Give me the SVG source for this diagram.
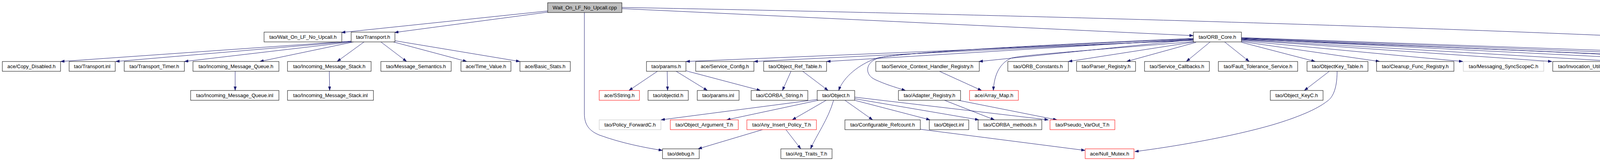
<svg xmlns="http://www.w3.org/2000/svg" width="5071" height="411" viewBox="0 0 5071 411">
<style>
.n rect{fill:#fff;stroke:#000;stroke-width:1}
.n.red rect{stroke:#f00}
.n.grey rect{stroke:#bfbfbf}
.n.root rect{fill:#bfbfbf}
.n text{font-family:"Liberation Sans",Arial,sans-serif;font-size:13px;text-anchor:middle;fill:#000}
#edges path{fill:none;stroke:#191970;stroke-width:1;marker-end:url(#arr)}
</style>
<defs>
<marker id="arr" markerUnits="userSpaceOnUse" markerWidth="10" markerHeight="8" refX="10" refY="3.5" orient="auto">
<path d="M0,0 L10,3.5 L0,7 z" fill="#191970" stroke="#191970" stroke-width="0.5"/>
</marker>
</defs>
<rect width="5071" height="411" fill="#fff"/>
<g id="edges">
<path d="M1402,28 L874,83"/>
<path d="M1402,31 L1010,83"/>
<path d="M1592,22 L3055,91"/>
<path d="M1592,19 C3000,45 4300,90 4822,128 C4950,140 5033,150 5033,169 C5033,183 5010,192 4990,196 C4900,212 4600,236 4429,242"/>
<path d="M1496,32 L1496,290 C1496,320 1510,335 1535,345 C1590,365 1650,377 1696,384"/>
<path d="M899,105 L155,157"/>
<path d="M899,106 L296,157"/>
<path d="M900,107 L472,157"/>
<path d="M905,107 L665,157"/>
<path d="M932,107 L863,157"/>
<path d="M975,107 L1041,157"/>
<path d="M1007,107 L1195,157"/>
<path d="M1011,104 L1331,157"/>
<path d="M602,182 L602,231"/>
<path d="M843,182 L844,231"/>
<path d="M1683,182 L1610,231"/>
<path d="M1708,182 L1709,231"/>
<path d="M1731,182 L1811,231"/>
<path d="M1757,181 L1947,231"/>
<path d="M2025,182 L2003,231"/>
<path d="M2055,182 L2120,231"/>
<path d="M2092,254 L1692,306"/>
<path d="M2095,256 L1860,306"/>
<path d="M2115,256 L2028,306"/>
<path d="M2134,256 C2120,305 2090,345 2075,380"/>
<path d="M2163,256 L2234,306"/>
<path d="M2188,256 L2381,306"/>
<path d="M2188,252 L2506,306"/>
<path d="M2188,248 L2684,306"/>
<path d="M1952,331 L1787,380"/>
<path d="M2012,331 L2050,380"/>
<path d="M2356,330 L2778,384"/>
<path d="M2418,256 L2546,306"/>
<path d="M2453,256 L2706,306"/>
<path d="M2405,182 L2513,231"/>
<path d="M3403,182 L3339,231"/>
<path d="M3423,182 C3423,230 3410,250 3398,258 C3370,280 3320,300 3260,318 C3150,350 3000,375 2905,387"/>
<path d="M4232,182 L4297,231"/>
<path d="M3055,103 L1756,157"/>
<path d="M3055,102 L1930,157"/>
<path d="M3055,100 L2116,157"/>
<path d="M3055,99 C2600,120 2280,135 2240,150 C2200,165 2160,195 2147,231"/>
<path d="M3055,98 C2650,115 2300,135 2250,148 C2215,158 2212,190 2240,203 C2265,215 2290,222 2318,231"/>
<path d="M3055,101 L2506,157"/>
<path d="M3056,106 C2800,128 2620,140 2590,148 C2560,160 2545,190 2543,231"/>
<path d="M3058,107 L2735,157"/>
<path d="M3062,108 L2884,157"/>
<path d="M3098,107 L3037,157"/>
<path d="M3135,107 L3198,157"/>
<path d="M3178,108 L3367,157"/>
<path d="M3178,106 L3532,157"/>
<path d="M3178,104 L3745,157"/>
<path d="M3178,102 L3973,157"/>
<path d="M3178,101 L4147,157"/>
<path d="M3178,100 C3800,125 4200,140 4270,150 C4300,160 4310,190 4315,231"/>
<path d="M3178,99 L4350,157"/>
<path d="M3178,98 L4553,157"/>
<path d="M3178,97 L4737,157"/>
<path d="M3178,96 L4915,157"/>
</g>
<g id="n_root" class="n root"><rect x="1402" y="7" width="190" height="25"/><text x="1497" y="24">Wait_On_LF_No_Upcall.cpp</text></g>
<g id="n_wolnu_h" class="n"><rect x="676" y="82" width="199" height="25"/><text x="775.5" y="99">tao/Wait_On_LF_No_Upcall.h</text></g>
<g id="n_transport_h" class="n"><rect x="899" y="82" width="112" height="25"/><text x="955" y="99">tao/Transport.h</text></g>
<g id="n_orb_core_h" class="n"><rect x="3055" y="82" width="123" height="25"/><text x="3116.5" y="99">tao/ORB_Core.h</text></g>
<g id="n_copy_disabled" class="n"><rect x="6" y="157" width="149" height="25"/><text x="80.5" y="174">ace/Copy_Disabled.h</text></g>
<g id="n_transport_inl" class="n"><rect x="177" y="157" width="118" height="25"/><text x="236" y="174">tao/Transport.inl</text></g>
<g id="n_transport_timer" class="n"><rect x="318" y="157" width="154" height="25"/><text x="395" y="174">tao/Transport_Timer.h</text></g>
<g id="n_imq_h" class="n"><rect x="494" y="157" width="220" height="25"/><text x="604" y="174">tao/Incoming_Message_Queue.h</text></g>
<g id="n_ims_h" class="n"><rect x="736" y="157" width="214" height="25"/><text x="843" y="174">tao/Incoming_Message_Stack.h</text></g>
<g id="n_msg_sem" class="n"><rect x="975" y="157" width="180" height="25"/><text x="1065" y="174">tao/Message_Semantics.h</text></g>
<g id="n_time_value" class="n"><rect x="1180" y="157" width="128" height="25"/><text x="1244" y="174">ace/Time_Value.h</text></g>
<g id="n_basic_stats" class="n"><rect x="1331" y="157" width="129" height="25"/><text x="1395.5" y="174">ace/Basic_Stats.h</text></g>
<g id="n_params_h" class="n"><rect x="1655" y="157" width="101" height="25"/><text x="1705.5" y="174">tao/params.h</text></g>
<g id="n_service_config" class="n"><rect x="1781" y="157" width="149" height="25"/><text x="1855.5" y="174">ace/Service_Config.h</text></g>
<g id="n_obj_ref_table" class="n"><rect x="1955" y="157" width="161" height="25"/><text x="2035.5" y="174">tao/Object_Ref_Table.h</text></g>
<g id="n_schr" class="n"><rect x="2242" y="157" width="265" height="25"/><text x="2374.5" y="174">tao/Service_Context_Handler_Registry.h</text></g>
<g id="n_orb_constants" class="n"><rect x="2580" y="157" width="155" height="25"/><text x="2657.5" y="174">tao/ORB_Constants.h</text></g>
<g id="n_parser_registry" class="n"><rect x="2756" y="157" width="151" height="25"/><text x="2831.5" y="174">tao/Parser_Registry.h</text></g>
<g id="n_service_callbacks" class="n"><rect x="2930" y="157" width="166" height="25"/><text x="3013" y="174">tao/Service_Callbacks.h</text></g>
<g id="n_ft_service" class="n"><rect x="3119" y="157" width="203" height="25"/><text x="3220.5" y="174">tao/Fault_Tolerance_Service.h</text></g>
<g id="n_objectkey_table" class="n"><rect x="3346" y="157" width="156" height="25"/><text x="3424" y="174">tao/ObjectKey_Table.h</text></g>
<g id="n_cleanup" class="n"><rect x="3524" y="157" width="198" height="25"/><text x="3623" y="174">tao/Cleanup_Func_Registry.h</text></g>
<g id="n_messaging" class="n grey"><rect x="3746" y="157" width="206" height="25"/><text x="3849" y="174">tao/Messaging_SyncScopeC.h</text></g>
<g id="n_invocation_utils" class="n"><rect x="3975" y="157" width="152" height="25"/><text x="4051" y="174">tao/Invocation_Utils.h</text></g>
<g id="n_orb_core_inl" class="n red"><rect x="4148" y="157" width="129" height="25"/><text x="4212.5" y="174">tao/ORB_Core.inl</text></g>
<g id="n_collocation" class="n"><rect x="4351" y="157" width="179" height="25"/><text x="4440.5" y="174">tao/Collocation_Strategy.h</text></g>
<g id="n_thread_manager" class="n red"><rect x="4554" y="157" width="160" height="25"/><text x="4634" y="174">ace/Thread_Manager.h</text></g>
<g id="n_lock_adapter" class="n red"><rect x="4738" y="157" width="155" height="25"/><text x="4815.5" y="174">ace/Lock_Adapter_T.h</text></g>
<g id="n_tss_t" class="n red"><rect x="4916" y="157" width="100" height="25"/><text x="4966" y="174">ace/TSS_T.h</text></g>
<g id="n_imq_inl" class="n"><rect x="488" y="231" width="226" height="25"/><text x="601" y="248">tao/Incoming_Message_Queue.inl</text></g>
<g id="n_ims_inl" class="n"><rect x="736" y="231" width="220" height="25"/><text x="846" y="248">tao/Incoming_Message_Stack.inl</text></g>
<g id="n_sstring" class="n red"><rect x="1534" y="231" width="103" height="25"/><text x="1585.5" y="248">ace/SString.h</text></g>
<g id="n_objectid" class="n"><rect x="1659" y="231" width="103" height="25"/><text x="1710.5" y="248">tao/objectid.h</text></g>
<g id="n_params_inl" class="n"><rect x="1785" y="231" width="107" height="25"/><text x="1838.5" y="248">tao/params.inl</text></g>
<g id="n_corba_string" class="n"><rect x="1923" y="231" width="145" height="25"/><text x="1995.5" y="248">tao/CORBA_String.h</text></g>
<g id="n_object_h" class="n"><rect x="2092" y="231" width="96" height="25"/><text x="2140" y="248">tao/Object.h</text></g>
<g id="n_adapter_registry" class="n"><rect x="2300" y="231" width="159" height="25"/><text x="2379.5" y="248">tao/Adapter_Registry.h</text></g>
<g id="n_array_map" class="n red"><rect x="2482" y="231" width="125" height="25"/><text x="2544.5" y="248">ace/Array_Map.h</text></g>
<g id="n_object_keyc" class="n"><rect x="3252" y="231" width="135" height="25"/><text x="3319.5" y="248">tao/Object_KeyC.h</text></g>
<g id="n_tss_resources" class="n"><rect x="4202" y="231" width="225" height="25"/><text x="4314.5" y="248">tao/ORB_Core_TSS_Resources.h</text></g>
<g id="n_policy_forwardc" class="n grey"><rect x="1534" y="306" width="158" height="25"/><text x="1613" y="323">tao/Policy_ForwardC.h</text></g>
<g id="n_object_argument" class="n red"><rect x="1716" y="306" width="174" height="25"/><text x="1803" y="323">tao/Object_Argument_T.h</text></g>
<g id="n_any_insert" class="n red"><rect x="1912" y="306" width="178" height="25"/><text x="2001" y="323">tao/Any_Insert_Policy_T.h</text></g>
<g id="n_conf_refcount" class="n"><rect x="2163" y="306" width="193" height="25"/><text x="2259.5" y="323">tao/Configurable_Refcount.h</text></g>
<g id="n_object_inl" class="n"><rect x="2379" y="306" width="101" height="25"/><text x="2429.5" y="323">tao/Object.inl</text></g>
<g id="n_corba_methods" class="n"><rect x="2504" y="306" width="163" height="25"/><text x="2585.5" y="323">tao/CORBA_methods.h</text></g>
<g id="n_pseudo_varout" class="n red"><rect x="2688" y="306" width="166" height="25"/><text x="2771" y="323">tao/Pseudo_VarOut_T.h</text></g>
<g id="n_debug" class="n"><rect x="1696" y="380" width="94" height="25"/><text x="1743" y="397">tao/debug.h</text></g>
<g id="n_arg_traits" class="n"><rect x="1999" y="380" width="131" height="25"/><text x="2064.5" y="397">tao/Arg_Traits_T.h</text></g>
<g id="n_null_mutex" class="n red"><rect x="2778" y="380" width="125" height="25"/><text x="2840.5" y="397">ace/Null_Mutex.h</text></g>
</svg>
